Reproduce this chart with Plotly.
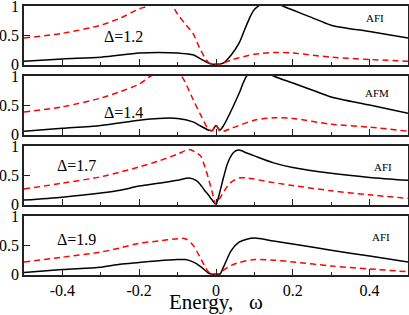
import plotly.graph_objects as go
from plotly.subplots import make_subplots

# Panel 1: Delta = 1.2 (AFI)
w1_red = [-0.5, -0.4, -0.3, -0.25, -0.2, -0.177, -0.145, -0.114, -0.1, -0.08, -0.06, -0.04, -0.02, -0.01, 0.0, 0.01, 0.02, 0.04, 0.06, 0.1, 0.15, 0.2, 0.3, 0.4, 0.5]
a1_red = [0.45, 0.53, 0.67, 0.79, 0.95, 1.0, 1.1, 1.0, 0.86, 0.69, 0.53, 0.24, 0.03, 0.0, 0.0, 0.0, 0.02, 0.07, 0.11, 0.17, 0.2, 0.19, 0.12, 0.08, 0.05]
w1_blk = [-0.5, -0.4, -0.3, -0.2, -0.15, -0.1, -0.06, -0.04, -0.02, -0.01, 0.0, 0.01, 0.02, 0.04, 0.06, 0.08, 0.1, 0.14, 0.174, 0.2, 0.25, 0.3, 0.4, 0.5]
a1_blk = [0.05, 0.09, 0.12, 0.19, 0.2, 0.19, 0.16, 0.09, 0.02, 0.0, 0.0, 0.0, 0.02, 0.16, 0.36, 0.68, 0.94, 1.1, 1.0, 0.93, 0.8, 0.67, 0.56, 0.45]

# Panel 2: Delta = 1.4 (AFM)
w2_red = [-0.5, -0.4, -0.3, -0.25, -0.2, -0.17, -0.12, -0.09, -0.06, -0.04, -0.02, -0.01, 0.0, 0.01, 0.02, 0.04, 0.06, 0.1, 0.15, 0.2, 0.3, 0.4, 0.5]
a2_red = [0.38, 0.47, 0.62, 0.73, 0.86, 1.0, 1.15, 1.0, 0.6, 0.33, 0.09, 0.06, 0.15, 0.05, 0.05, 0.1, 0.15, 0.24, 0.28, 0.27, 0.17, 0.12, 0.05]
w2_blk = [-0.5, -0.4, -0.3, -0.2, -0.15, -0.1, -0.06, -0.04, -0.02, -0.01, 0.0, 0.01, 0.02, 0.04, 0.06, 0.08, 0.11, 0.15, 0.2, 0.25, 0.3, 0.4, 0.5]
a2_blk = [0.05, 0.1, 0.15, 0.24, 0.27, 0.27, 0.21, 0.14, 0.07, 0.06, 0.15, 0.07, 0.15, 0.41, 0.7, 1.0, 1.15, 1.0, 0.88, 0.76, 0.64, 0.5, 0.36]

# Panel 3: Delta = 1.7 (AFI)
w3_red = [-0.5, -0.4, -0.3, -0.25, -0.2, -0.15, -0.1, -0.07, -0.05, -0.04, -0.03, -0.02, -0.01, 0.0, 0.01, 0.02, 0.03, 0.04, 0.06, 0.08, 0.1, 0.15, 0.2, 0.3, 0.4, 0.5]
a3_red = [0.26, 0.36, 0.47, 0.55, 0.64, 0.74, 0.86, 0.94, 0.88, 0.83, 0.66, 0.45, 0.21, 0.0, 0.1, 0.21, 0.31, 0.38, 0.45, 0.45, 0.43, 0.37, 0.32, 0.23, 0.16, 0.1]
w3_blk = [-0.5, -0.4, -0.3, -0.25, -0.2, -0.15, -0.1, -0.07, -0.05, -0.04, -0.03, -0.02, -0.01, 0.0, 0.01, 0.02, 0.03, 0.04, 0.05, 0.06, 0.08, 0.1, 0.15, 0.2, 0.3, 0.4, 0.5]
a3_blk = [0.07, 0.12, 0.19, 0.24, 0.31, 0.36, 0.41, 0.45, 0.4, 0.33, 0.24, 0.16, 0.07, 0.0, 0.21, 0.47, 0.7, 0.84, 0.91, 0.93, 0.88, 0.83, 0.71, 0.63, 0.53, 0.46, 0.41]

# Panel 4: Delta = 1.9 (AFI)
w4_red = [-0.5, -0.4, -0.3, -0.25, -0.2, -0.15, -0.1, -0.08, -0.06, -0.04, -0.03, -0.02, -0.01, 0.0, 0.01, 0.02, 0.04, 0.06, 0.1, 0.15, 0.2, 0.3, 0.4, 0.5]
a4_red = [0.21, 0.29, 0.38, 0.45, 0.53, 0.57, 0.61, 0.61, 0.5, 0.27, 0.15, 0.04, 0.01, 0.0, 0.01, 0.07, 0.15, 0.2, 0.25, 0.24, 0.21, 0.14, 0.09, 0.04]
w4_blk = [-0.5, -0.4, -0.3, -0.25, -0.2, -0.15, -0.1, -0.08, -0.06, -0.04, -0.02, -0.01, 0.0, 0.01, 0.02, 0.04, 0.06, 0.08, 0.1, 0.15, 0.2, 0.3, 0.4, 0.5]
a4_blk = [0.03, 0.08, 0.12, 0.17, 0.2, 0.23, 0.25, 0.25, 0.21, 0.13, 0.02, 0.0, 0.0, 0.0, 0.13, 0.41, 0.55, 0.6, 0.62, 0.57, 0.52, 0.41, 0.31, 0.21]

panels = [
    (w1_red, a1_red, w1_blk, a1_blk),
    (w2_red, a2_red, w2_blk, a2_blk),
    (w3_red, a3_red, w3_blk, a3_blk),
    (w4_red, a4_red, w4_blk, a4_blk),
]
delta_labels = ["Δ=1.2", "Δ=1.4", "Δ=1.7", "Δ=1.9"]
delta_pos = [(-0.242, 0.47), (-0.242, 0.38), (-0.364, 0.66), (-0.364, 0.60)]
phase_labels = ["AFI", "AFM", "AFI", "AFI"]
phase_pos = [(0.413, 0.79), (0.42, 0.71), (0.434, 0.64), (0.429, 0.64)]
x_ticks = [-0.4, -0.2, 0.0, 0.2, 0.4]
x_ticklabels = ["-0.4", "-0.2", "0", "0.2", "0.4"]
y_ticks = [0, 0.5, 1]
y_ticklabels = ["0", "0.5", "1"]
x_title = "Energy,\u00a0\u00a0\u00a0ω"

FONT = "Liberation Serif"
fig = make_subplots(rows=4, cols=1, shared_xaxes=True, vertical_spacing=11 / 269)

for i, (wr, ar, wb, ab) in enumerate(panels):
    r = i + 1
    fig.add_trace(go.Scatter(x=wb, y=ab, mode="lines", line=dict(color="black", width=1.5, shape="spline", smoothing=0.8), showlegend=False), row=r, col=1)
    fig.add_trace(go.Scatter(x=wr, y=ar, mode="lines", line=dict(color="#ff0000", width=1.5, dash="6px,4px", shape="spline", smoothing=0.8), showlegend=False), row=r, col=1)
    xa = "x" if r == 1 else f"x{r}"
    ya = "y" if r == 1 else f"y{r}"
    fig.add_annotation(x=delta_pos[i][0], y=delta_pos[i][1], xref=xa, yref=ya, text=delta_labels[i], showarrow=False, font=dict(family=FONT, size=16, color="black"))
    fig.add_annotation(x=phase_pos[i][0], y=phase_pos[i][1], xref=xa, yref=ya, text=phase_labels[i], showarrow=False, font=dict(family=FONT, size=11, color="black"))
    fig.update_yaxes(row=r, col=1, range=[-0.015, 1.0], tickvals=y_ticks, ticktext=y_ticklabels, ticks="inside", ticklen=6, tickwidth=1, tickcolor="#222", showline=True, linecolor="#222", linewidth=1.5, mirror=True, showgrid=False, zeroline=False, automargin=False, ticklabeloverflow="allow", tickfont=dict(family=FONT, size=16, color="black"))
    fig.update_xaxes(row=r, col=1, range=[-0.5, 0.5], tickvals=x_ticks, ticktext=x_ticklabels, ticks="inside", ticklen=6, tickwidth=1, tickcolor="#222", showline=True, linecolor="#222", linewidth=1.5, mirror=True, showgrid=False, zeroline=False, automargin=False, showticklabels=(r == 4), tickfont=dict(family=FONT, size=16, color="black"),
                     minor=dict(tickvals=[-0.3, -0.1, 0.1, 0.3], ticks="inside", ticklen=3, tickwidth=1, tickcolor="#222"))

fig.add_annotation(x=0.5, y=-(302 - 275) / 269, xref="paper", yref="paper", text=x_title, showarrow=False, font=dict(family=FONT, size=21, color="black"), yanchor="middle")

fig.update_layout(width=409, height=315, margin=dict(l=24, r=1, t=6, b=40), plot_bgcolor="white", paper_bgcolor="white", showlegend=False)
fig.write_html("out.html", config={"displayModeBar": False}, post_script="document.body.style.margin='0';document.body.style.overflow='hidden';")
